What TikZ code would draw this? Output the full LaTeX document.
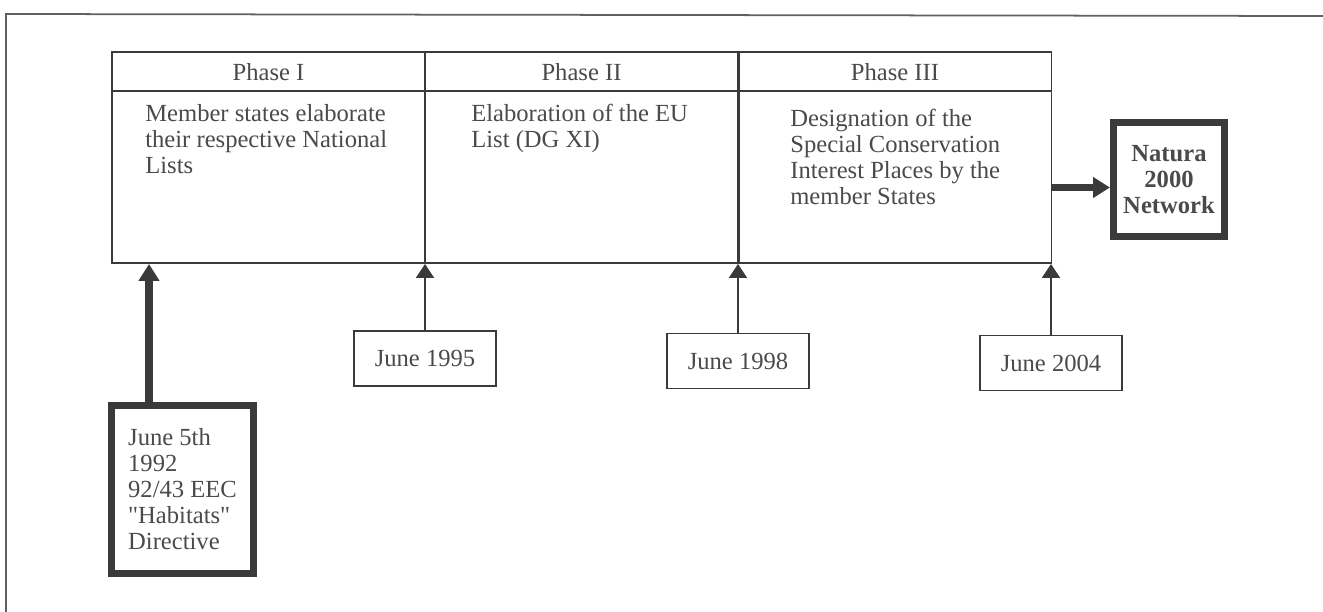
\documentclass[tikz,border=0pt]{standalone}
\usepackage{fontspec}
\setmainfont{Liberation Serif}
\newfontfamily\gerade{Liberation Serif}
\usetikzlibrary{arrows.meta}
\definecolor{sumi}{HTML}{3A3A3A}
\definecolor{usuzumi}{HTML}{4A4A4A}
\tikzset{
  hyo/.style={draw=sumi, line width=1.1pt, minimum width=6.26cm, minimum height=4.22cm, inner sep=0pt},
  hizuke/.style={draw=sumi, line width=1.1pt, minimum width=2.84cm, minimum height=1.1cm, text=usuzumi},
  futoi/.style={draw=sumi, line width=4pt, inner sep=0pt, text=usuzumi},
  bun/.style={anchor=north west, align=left, inner sep=0pt, text=usuzumi},
  ya/.style={draw=sumi, line width=1.1pt, -{Triangle[width=0.36cm, length=0.28cm]}},
  futoya/.style={draw=sumi, line width=4pt, -{Triangle[width=0.4cm, length=0.34cm]}},
}
\begin{document}
\fontsize{14}{14.8}\selectfont
\begin{tikzpicture}[x=0.02cm, y=-0.02cm]
%	1px = 0.02cm で座標を取った
	\useasboundingbox (0,0) rectangle (1323,612);
	\draw[sumi!80, line width=1pt] (1323,16)-- (6,14)-- (6,612); %外枠
	\node[hyo] (ph1) at (268.5,157.5) {}; %第一段階の枠
	\node[hyo] (ph2) at (581.5,157.5) {}; %第二段階の枠
	\node[hyo] (ph3) at (895,157.5) {}; %第三段階の枠
	\draw[sumi, line width=1.1pt] ([yshift=-0.8cm]ph1.north west)-- ([yshift=-0.8cm]ph3.north east); %見出しの下線
	\node[text=usuzumi] (h1) at (268.5,72) {Phase I};
	\node[text=usuzumi] (h2) at (581.5,72) {Phase II};
	\node[text=usuzumi] (h3) at (895,72) {Phase III};
	\node[bun] (b1) at (145,104) {Member states elaborate\\their respective National\\Lists};
	\node[bun] (b2) at (471,104) {Elaboration of the EU\\List (DG XI)};
	\node[bun] (b3) at (790,109) {Designation of the\\Special Conservation\\Interest Places by the\\member States};
	\node[futoi, minimum width=2.22cm, minimum height=2.28cm, align=center, font=\bfseries] (natura) at (1169,179.5) {Natura\\2000\\Network}; %右の太枠
	\coordinate (nw) at ([yshift=-0.16cm]natura.west);
	\draw[futoya] (ph3.east |- nw)-- (nw); %太い矢印(右)
	\node[futoi, minimum width=2.84cm, minimum height=3.36cm, align=left] (d92) at (182.5,489.5) {June 5th\\1992\\92/43 EEC\\{\gerade"}Habitats{\gerade"}\\Directive}; %左下の太枠
	\coordinate (d92a) at ([xshift=-0.67cm]d92.north);
	\draw[futoya] (d92a)-- (d92a |- ph1.south); %太い矢印(上)
	\node[hizuke] (d95) at (425,358.5) {June 1995};
	\node[hizuke] (d98) at (738,361) {June 1998};
	\node[hizuke] (d04) at (1051,363) {June 2004};
	\draw[ya] (d95)-- (d95 |- ph1.south);
	\draw[ya] (d98)-- (d98 |- ph2.south);
	\draw[ya] (d04)-- (d04 |- ph3.south);
\end{tikzpicture}
\end{document}
